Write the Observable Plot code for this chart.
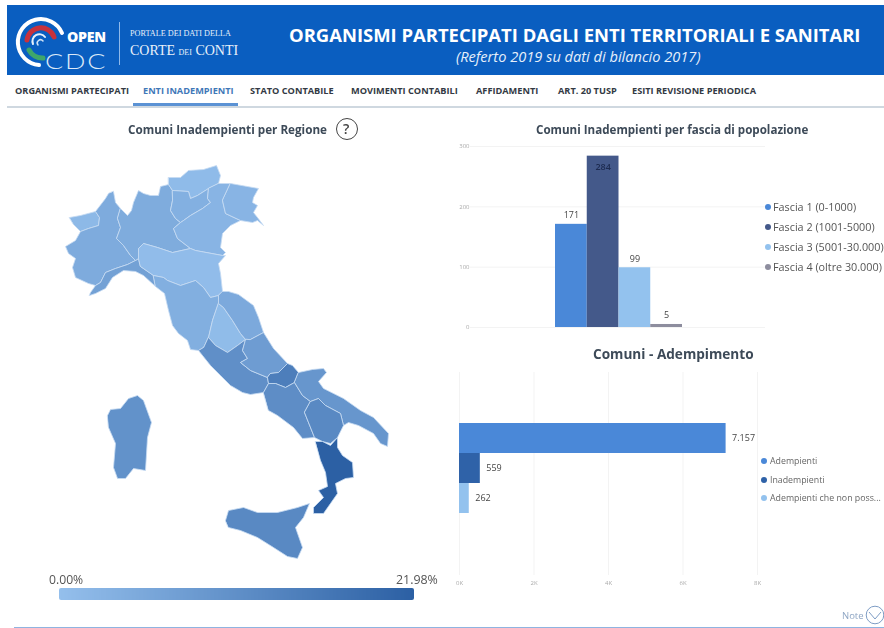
<!DOCTYPE html>
<html><head><meta charset="utf-8">
<script src="https://cdn.jsdelivr.net/npm/d3@7"></script>
<script src="https://cdn.jsdelivr.net/npm/@observablehq/plot@0.6"></script>
<style>
html,body{margin:0;padding:0;background:#fff}
#root{position:relative;width:884px;height:628px;overflow:hidden;font-family:"Open Sans",sans-serif;filter:blur(.55px)}
.a{position:absolute;white-space:nowrap}
.c{position:absolute}
.c svg{display:block;background:transparent}
</style></head><body><div id="root"></div>
<script>
// ---------- text ----------
const navLabels=["ORGANISMI PARTECIPATI","ENTI INADEMPIENTI","STATO CONTABILE","MOVIMENTI CONTABILI","AFFIDAMENTI","ART. 20 TUSP","ESITI REVISIONE PERIODICA"];
// ---------- population bands ----------
const fasce=["Fascia 1 (0-1000)","Fascia 2 (1001-5000)","Fascia 3 (5001-30.000)","Fascia 4 (oltre 30.000)"];
const fasceValues=[171,284,99,5];
const fasceColors=["#4a88d8","#44598a","#93c2ee","#8d8d9e"];
const fasceTicks=[0,100,200,300];
// ---------- compliance ----------
const adempimento=["Adempienti","Inadempienti","Adempienti che non poss..."];
const adempimentoValues=[7157,559,262];
const adempimentoColors=["#4a88d8","#2f62a8","#93c2ee"];
const adempimentoTicks=[0,2000,4000,6000,8000];
// ---------- regions: share of non-compliant municipalities (%) ----------
const regionNames=["Valle d'Aosta","Piemonte","Liguria","Lombardia","Bolzano","Trento","Veneto","Friuli-Venezia Giulia","Emilia-Romagna","Toscana","Umbria","Marche","Lazio","Abruzzo","Molise","Campania","Puglia","Basilicata","Calabria","Sicilia","Sardegna"];
const regionValues=[1.5,4.7,7,4.5,1,3.5,2.5,2.5,.6,3.8,.8,5,11,8,15,11.5,9.5,12.5,21.98,12.5,10.5];
const scaleMax=21.98;
const rampColors=["#94bfec","#2c60a4"];
// ---------- region outlines, in map units ----------
const valleAosta=[[69,217],[80,215],[95,211],[99,217],[98,225],[88,228],[80,231],[73,224]];
const piemonte=[[113,191],[115,202],[120,208],[117,218],[120,227],[116,238],[123,245],[130,255],[135,260],[127,264],[115,268],[105,272],[100,282],[95,285],[88,283],[75,277],[72,267],[75,258],[68,253],[65,246],[75,240],[80,231],[88,228],[98,225],[99,217],[95,211],[105,198],[108,193]];
const liguria=[[89,295],[95,293],[105,288],[112,277],[123,270],[135,271],[143,275],[155,286],[153,275],[140,266],[138,258],[135,260],[127,264],[115,268],[105,272],[100,282],[95,285],[90,292]];
const lombardia=[[120,208],[127,215],[131,210],[133,202],[138,190],[143,193],[150,195],[158,195],[160,186],[168,184],[172,190],[172,200],[170,210],[175,218],[180,222],[173,228],[177,238],[190,248],[172,252],[157,247],[143,243],[138,248],[138,258],[135,260],[130,255],[123,245],[116,238],[120,227],[117,218]];
const bolzano=[[168,177],[180,177],[188,170],[203,169],[216,165],[220,175],[218,183],[208,188],[197,195],[190,198],[188,191],[172,190],[168,184]];
const trento=[[172,190],[188,191],[190,198],[197,195],[208,188],[207,198],[210,202],[202,208],[190,215],[183,220],[180,222],[175,218],[170,210],[172,200]];
const veneto=[[218,183],[230,183],[222,200],[225,213],[240,220],[230,225],[222,233],[220,247],[225,252],[222,255],[195,250],[190,248],[177,238],[173,228],[180,222],[183,220],[190,215],[202,208],[210,202],[207,198],[208,188]];
const friuli=[[230,183],[258,188],[253,197],[252,202],[257,205],[253,212],[257,217],[263,225],[257,220],[252,222],[240,220],[225,213],[222,200]];
const emilia=[[138,258],[138,248],[143,243],[157,247],[172,252],[190,248],[195,250],[222,255],[225,255],[218,263],[220,273],[222,291],[218,295],[210,297],[203,287],[195,280],[180,285],[167,280],[163,277],[153,275],[140,266]];
const toscana=[[153,275],[163,277],[167,280],[180,285],[195,280],[203,287],[210,297],[218,295],[218,303],[212,320],[208,337],[203,347],[198,350],[190,349],[187,340],[178,333],[172,325],[168,310],[164,293],[155,286]];
const umbria=[[218,303],[223,307],[232,320],[240,333],[245,339],[237,345],[227,352],[215,345],[208,337],[212,320]];
const marche=[[222,291],[228,291],[238,294],[253,305],[258,317],[263,332],[250,339],[245,339],[240,333],[232,320],[223,307],[218,303],[218,295]];
const lazio=[[208,337],[215,345],[227,352],[237,345],[245,339],[242,350],[247,358],[240,362],[250,370],[267,377],[268,383],[263,392],[250,394],[242,392],[230,385],[220,375],[210,365],[198,350],[203,347]];
const abruzzo=[[250,339],[263,332],[273,348],[287,363],[278,372],[270,373],[267,377],[250,370],[240,362],[247,358],[242,350],[245,339]];
const molise=[[270,373],[278,372],[287,363],[292,365],[298,372],[294,382],[285,387],[275,383],[268,383],[267,377]];
const campania=[[263,392],[268,383],[275,383],[285,387],[294,382],[302,395],[310,401],[304,412],[314,437],[302,438],[293,427],[277,415],[268,410]];
const puglia=[[298,372],[312,369],[323,368],[326,372],[318,381],[323,388],[343,398],[360,410],[373,417],[388,433],[387,446],[380,443],[373,433],[358,425],[348,422],[343,425],[340,413],[325,405],[318,398],[310,401],[302,395],[294,382]];
const basilicata=[[310,401],[318,398],[325,405],[340,413],[343,425],[337,437],[330,443],[322,441],[314,437],[304,412]];
const calabria=[[315,441],[322,441],[330,445],[337,437],[337,447],[342,455],[352,462],[353,477],[345,478],[335,483],[337,493],[330,503],[323,513],[313,513],[313,507],[323,497],[318,490],[327,486],[325,472],[320,460]];
const sicilia=[[225,520],[228,510],[243,507],[257,512],[277,512],[297,507],[309,503],[303,517],[295,527],[302,547],[297,558],[287,556],[273,547],[257,537],[240,530],[228,527]];
const sardegna=[[107,415],[110,409],[120,408],[128,398],[137,395],[143,400],[151,422],[147,437],[145,470],[133,468],[125,478],[117,478],[113,467],[115,443],[108,427]];
const regionRings=[valleAosta,piemonte,liguria,lombardia,bolzano,trento,veneto,friuli,emilia,toscana,umbria,marche,lazio,abruzzo,molise,campania,puglia,basilicata,calabria,sicilia,sardegna];

// ---------- helpers ----------
const root=document.getElementById("root");
function box(left,top,width,height,css=""){const e=document.createElement("div");e.className="c";e.style.cssText=`left:${left}px;top:${top}px;width:${width}px;height:${height}px;${css}`;root.appendChild(e);return e;}
function txt(s,left,top,css=""){const e=document.createElement("div");e.className="a";e.textContent=s;e.style.cssText=`left:${left}px;top:${top}px;${css};line-height:1`;root.appendChild(e);return e;}
function place(node,left,top,css=""){const w=box(left,top,0,0,css);w.style.width="auto";w.style.height="auto";w.appendChild(node);}
const itFormat=d3.formatLocale({decimal:",",thousands:".",grouping:[3],currency:["€",""]}).format(",d");

// ---------- header ----------
box(7,5,877,70,"background:#0a5ec0");
box(7,75,877,31,"background:#fff;border-bottom:2px solid #cfd8e0");
box(133,103,105,2.5,"background:#5b92d4");
const logo=document.createElement("div");
logo.innerHTML=`<svg width="110" height="75" viewBox="0 0 110 75" fill="none" stroke-linecap="round">
<path d="M39 65 A23 23 0 1 1 62 33" stroke="#fff" stroke-width="4"/>
<path d="M27 40 A14 14 0 0 1 54 37" stroke="#c8323c" stroke-width="5"/>
<path d="M29 50 A15 15 0 0 0 43 58" stroke="#3fa66b" stroke-width="5"/>
<path d="M33 44 A7 7 0 0 1 45 37" stroke="#e8f1fb" stroke-width="2"/>
<path d="M38 45 A3 3 0 0 1 43 41" stroke="#cfe2f7" stroke-width="1.5"/>
</svg>`;
place(logo,0,0);
txt("OPEN",67,30,"color:#fff;font:800 14.2px 'Open Sans';letter-spacing:-.3px");
txt("CDC",45,49.5,"color:#dbe9f8;font:300 21px 'Lato';letter-spacing:1.4px;transform:scaleX(1.28);transform-origin:left center");
box(119,22,1.2,43,"background:#8fb9ea");
txt("PORTALE DEI DATI DELLA",130,29.5,"color:#e8f0fa;font:8.2px 'Liberation Serif'");
const corte=txt("",130,43.5,"color:#e8f0fa;font:14px 'Liberation Serif'");
corte.innerHTML='CORTE <span style="font-size:8px">DEI</span> CONTI';
txt("ORGANISMI PARTECIPATI DAGLI ENTI TERRITORIALI E SANITARI",289,26,"color:#fff;font:700 18.45px 'Open Sans'");
txt("(Referto 2019 su dati di bilancio 2017)",456,49,"color:#e6effa;font:italic 14.6px 'Open Sans'");
const navLeft=[15,143,250,351,476,558,632];
navLabels.forEach((s,i)=>txt(s,navLeft[i],85.5,`font:700 9.2px 'Open Sans';color:${i===1?"#3f78b8":"#333a44"}`));

// ---------- map ----------
txt("Comuni Inadempienti per Regione",128,124,"font:700 11.7px 'Open Sans';color:#3d4a58");
box(336,118,22,22,"border:1.4px solid #444;border-radius:50%;box-sizing:border-box");
txt("?",343,122,"font:600 14px 'Open Sans';color:#444");
const features=regionNames.map((name,i)=>({type:"Feature",properties:{name,value:regionValues[i]},geometry:{type:"Polygon",coordinates:[[...regionRings[i],regionRings[i][0]]]}}));
const italy={type:"FeatureCollection",features};
const colorOpts={type:"linear",domain:[0,scaleMax],range:rampColors};
place(Plot.plot({width:333,height:403,margin:5,projection:{type:"identity",domain:italy},color:colorOpts,
  marks:[Plot.geo(features,{fill:d=>d.properties.value,stroke:"#c8dcf3",strokeWidth:.8,strokeLinejoin:"round"})]}),60,160);

// ---------- colour ramp ----------
txt("0.00%",49,574,"font:12.2px 'Open Sans';color:#555");
txt("21.98%",396,574,"font:12.4px 'Open Sans';color:#555");
place(Plot.legend({color:colorOpts,label:null,ticks:0,tickSize:0,width:355,height:12,marginTop:0,marginBottom:0,marginLeft:0,marginRight:0}),59,588,"border-radius:2px;overflow:hidden");

// ---------- bars by population band ----------
txt("Comuni Inadempienti per fascia di popolazione",536,124,"font:700 11.6px 'Open Sans';color:#3d4a58");
const fasceRows=fasce.map((fascia,i)=>({fascia,n:fasceValues[i]}));
place(Plot.plot({width:330,height:210,marginLeft:28,marginRight:7,marginTop:16,marginBottom:13,
  style:{fontFamily:"Open Sans"},
  x:{type:"band",domain:fasce,range:[113,240],padding:0,round:false,axis:null},
  y:{domain:[0,300],axis:null},
  color:{domain:fasce,range:fasceColors},
  marks:[
    Plot.ruleY(fasceTicks,{stroke:"#f3f3f3"}),
    Plot.axisY(fasceTicks,{anchor:"left",tickSize:0,tickPadding:1,fontSize:6,color:"#aaa",label:null}),
    Plot.barY(fasceRows,{x:"fascia",y:"n",fill:"fascia"}),
    Plot.text(fasceRows.filter(d=>d.n<250),{x:"fascia",y:"n",text:d=>itFormat(d.n),dy:-9,fontSize:9,fill:"#444"}),
    Plot.text(fasceRows.filter(d=>d.n>=250),{x:"fascia",y:"n",text:d=>itFormat(d.n),dy:11,fontSize:9,fontWeight:600,fill:"#1d2b50"})
  ]}),442,130);
const fasceLegendY=[201.5,221.5,241.5,261.5];
fasce.forEach((s,i)=>{
  box(765,fasceLegendY[i]+2.5,6,6,`background:${fasceColors[i]};border-radius:50%`);
  txt(s,773,fasceLegendY[i],"font:10.8px 'Open Sans';color:#555");
});

// ---------- bars by compliance ----------
txt("Comuni - Adempimento",593,347,"font:700 13.6px 'Open Sans';color:#3d4a58");
const adRows=adempimento.map((stato,i)=>({stato,n:adempimentoValues[i]}));
place(Plot.plot({width:330,height:228,marginLeft:17,marginRight:15,marginTop:7,marginBottom:18,
  style:{fontFamily:"Open Sans"},
  x:{domain:[0,8000],axis:null},
  y:{type:"band",domain:adempimento,range:[58,148],padding:0,round:false,axis:null},
  color:{domain:adempimento,range:adempimentoColors},
  marks:[
    Plot.gridX(adempimentoTicks,{stroke:"#f3f3f3",strokeOpacity:1}),
    Plot.axisX(adempimentoTicks,{anchor:"bottom",tickSize:0,tickPadding:5,fontSize:6,color:"#aaa",label:null,tickFormat:d=>d/1000+"K"}),
    Plot.barX(adRows,{y:"stato",x:"n",fill:"stato"}),
    Plot.text(adRows,{y:"stato",x:"n",text:d=>itFormat(d.n),dx:6,textAnchor:"start",fontSize:9,fill:"#444"})
  ]}),442,365);
const adLegendY=[456.5,475.5,493.5];
adempimento.forEach((s,i)=>{
  box(761,adLegendY[i]+1.5,6,6,`background:${adempimentoColors[i]};border-radius:50%`);
  txt(s,770,adLegendY[i],"font:8.8px 'Open Sans';color:#666");
});

// ---------- footer ----------
txt("Note",842,611,"font:9.5px 'Open Sans';color:#8fa6c4");
const note=document.createElement("div");
note.innerHTML=`<svg width="20" height="20" viewBox="0 0 20 20" fill="none" stroke="#7d9cc4" stroke-width="1"><circle cx="10" cy="10" r="8.8"/><path d="M4 7 L10 14 L16 7"/></svg>`;
place(note,865,605);
box(14,626.5,870,1.5,"background:#8fb4e0");
</script></body></html>
